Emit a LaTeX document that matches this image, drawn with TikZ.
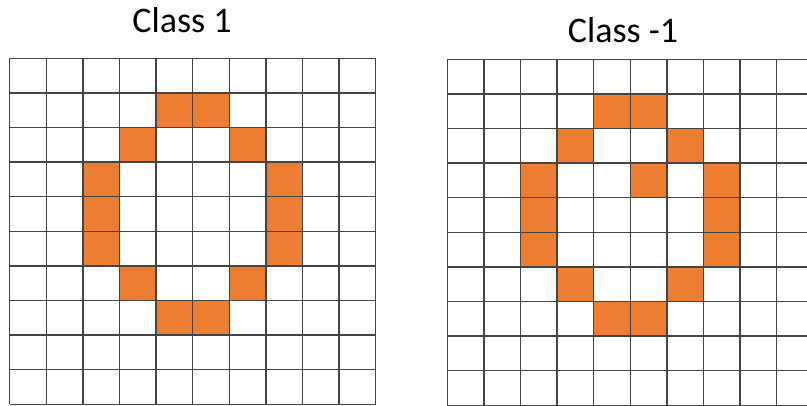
\documentclass[tikz,border=0pt]{standalone}
\usepackage{fontspec}
\setmainfont{Carlito}
\definecolor{cellorange}{HTML}{ED7D31}
\definecolor{gridline}{HTML}{444444}
\begin{document}
\begin{tikzpicture}[x=1pt,y=-1pt,
  cell/.style={fill=cellorange,draw=none},
  gridl/.style={draw=gridline,line width=1.4pt},
  title/.style={anchor=base,inner sep=0pt,font=\fontsize{36}{40}\selectfont}]
\useasboundingbox (0,0) rectangle (807,406);
\begin{scope}
\clip (0,0) rectangle (807,406);
% left grid
\def\lx{9.7}\def\ly{58.3}\def\cw{36.6}\def\rh{34.6}
\foreach \c/\r in {4/1,5/1,3/2,6/2,2/3,7/3,2/4,7/4,2/5,7/5,3/6,6/6,4/7,5/7}
  \fill[cell] ({\lx+\c*\cw},{\ly+\r*\rh}) rectangle ++(\cw,\rh);
\foreach \i in {0,...,10} {
  \draw[gridl] ({\lx+\i*\cw},\ly) -- ++(0,{10*\rh});
  \draw[gridl] (\lx,{\ly+\i*\rh}) -- ++({10*\cw},0);
}
% right grid
\def\rx{447.3}\def\ry{59.3}
\foreach \c/\r in {4/1,5/1,3/2,6/2,2/3,5/3,7/3,2/4,7/4,2/5,7/5,3/6,6/6,4/7,5/7}
  \fill[cell] ({\rx+\c*\cw},{\ry+\r*\rh}) rectangle ++(\cw,\rh);
\foreach \i in {0,...,10} {
  \draw[gridl] ({\rx+\i*\cw},\ry) -- ++(0,{10*\rh});
  \draw[gridl] (\rx,{\ry+\i*\rh}) -- ++({10*\cw},0);
}
\end{scope}
\node[title] (t1) at (182,33) {Class 1};
\node[title] (t2) at (623,43) {Class -1};
\end{tikzpicture}
\end{document}
